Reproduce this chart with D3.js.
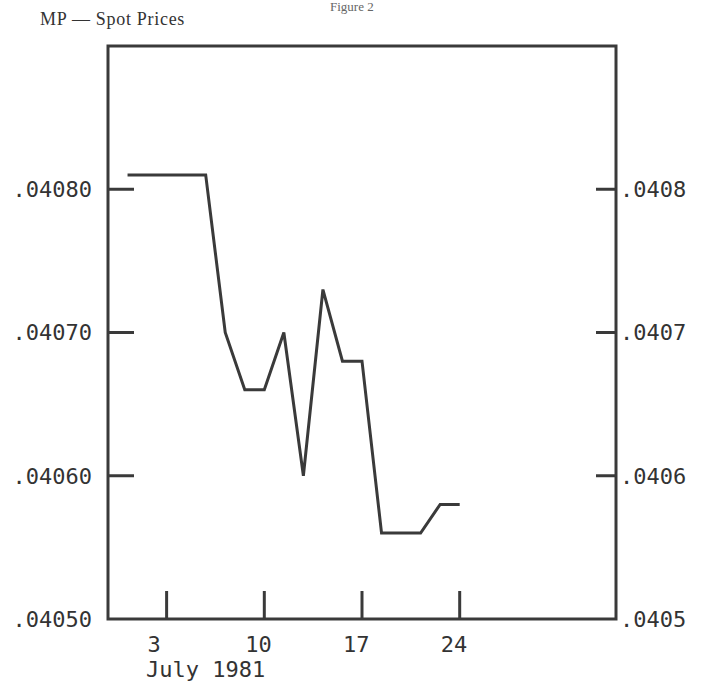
<!DOCTYPE html>
<html>
<head>
<meta charset="utf-8">
<script src="https://cdn.jsdelivr.net/npm/d3@7"></script>
<style>
  body { margin: 0; background: #fff; }
  svg { display: block; }
  .tick-label { font-family: "DejaVu Sans Mono", monospace; font-size: 22px; fill: #333; }
</style>
</head>
<body>
<div id="chart"></div>
<script>
// trading days of July 1981 and spot prices
const days = [1, 2, 3, 6, 7, 8, 9, 10, 13, 14, 15, 16, 17, 20, 21, 22, 23, 24];
const prices = [0.04081, 0.04081, 0.04081, 0.04081, 0.04081, 0.04070, 0.04066, 0.04066, 0.04070,
  0.04060, 0.04073, 0.04068, 0.04068, 0.04056, 0.04056, 0.04056, 0.04058, 0.04058];
const xTickDays = [3, 10, 17, 24];
const leftTicks = [0.0405, 0.0406, 0.0407, 0.0408];
const leftTickLabels = [".04050", ".04060", ".04070", ".04080"];
const rightTickLabels = [".0405", ".0406", ".0407", ".0408"];
const title = "MP \u2014 Spot Prices";
const xTitle = "July 1981";

const width = 701;
const height = 685;
const frame = { left: 108, right: 616, top: 46, bottom: 619 };
const ink = "#3a3a3a";

const svg = d3.select("#chart")
  .append("svg")
  .attr("width", width)
  .attr("height", height);

// x is the trading day index, y the price
const x = d3.scaleLinear().domain([-1, 25]).range([frame.left, frame.right]);
const y = d3.scaleLinear().domain([0.0405, 0.0409]).range([frame.bottom, frame.top]);
const dayIndex = d => days.indexOf(d);

// header at the top of the page
svg.append("text")
  .attr("x", 330)
  .attr("y", 11)
  .attr("font-family", "Liberation Serif, serif")
  .attr("font-size", 13)
  .attr("fill", "#666")
  .text("Figure 2");

svg.append("text")
  .attr("x", 40)
  .attr("y", 25)
  .attr("font-family", "Liberation Serif, serif")
  .attr("font-size", 18)
  .attr("letter-spacing", 0.7)
  .attr("fill", "#333")
  .text(title);

// frame
svg.append("rect")
  .attr("x", frame.left)
  .attr("y", frame.top)
  .attr("width", frame.right - frame.left)
  .attr("height", frame.bottom - frame.top)
  .attr("fill", "none")
  .attr("stroke", ink)
  .attr("stroke-width", 3);

// left ticks + labels
const leftAxis = svg.append("g");
leftAxis.selectAll("line")
  .data(leftTicks.slice(1))
  .enter()
  .append("line")
  .attr("x1", frame.left)
  .attr("x2", frame.left + 26)
  .attr("y1", d => y(d))
  .attr("y2", d => y(d))
  .attr("stroke", ink)
  .attr("stroke-width", 3);

leftAxis.selectAll("text")
  .data(leftTicks)
  .enter()
  .append("text")
  .attr("class", "tick-label")
  .attr("x", 92)
  .attr("y", d => y(d))
  .attr("dy", "0.36em")
  .attr("text-anchor", "end")
  .text((d, i) => leftTickLabels[i]);

// right ticks + labels
const rightAxis = svg.append("g");
rightAxis.selectAll("line")
  .data(leftTicks.slice(1))
  .enter()
  .append("line")
  .attr("x1", frame.right - 20)
  .attr("x2", frame.right)
  .attr("y1", d => y(d))
  .attr("y2", d => y(d))
  .attr("stroke", ink)
  .attr("stroke-width", 3);

rightAxis.selectAll("text")
  .data(leftTicks)
  .enter()
  .append("text")
  .attr("class", "tick-label")
  .attr("x", frame.right + 4)
  .attr("y", d => y(d))
  .attr("dy", "0.36em")
  .text((d, i) => rightTickLabels[i]);

// bottom ticks + labels
const bottomAxis = svg.append("g");
bottomAxis.selectAll("line")
  .data(xTickDays)
  .enter()
  .append("line")
  .attr("x1", d => x(dayIndex(d)))
  .attr("x2", d => x(dayIndex(d)))
  .attr("y1", frame.bottom)
  .attr("y2", frame.bottom - 28)
  .attr("stroke", ink)
  .attr("stroke-width", 3);

bottomAxis.selectAll("text")
  .data(xTickDays)
  .enter()
  .append("text")
  .attr("class", "tick-label")
  .attr("x", d => x(dayIndex(d)) - 19)
  .attr("y", 652)
  .text(d => d);

svg.append("text")
  .attr("class", "tick-label")
  .attr("x", 146)
  .attr("y", 677)
  .text(xTitle);

// price line
const line = d3.line()
  .x((d, i) => x(i))
  .y(d => y(d));

svg.append("path")
  .datum(prices)
  .attr("d", line)
  .attr("fill", "none")
  .attr("stroke", ink)
  .attr("stroke-width", 3)
  .attr("stroke-linejoin", "miter");
</script>
</body>
</html>
